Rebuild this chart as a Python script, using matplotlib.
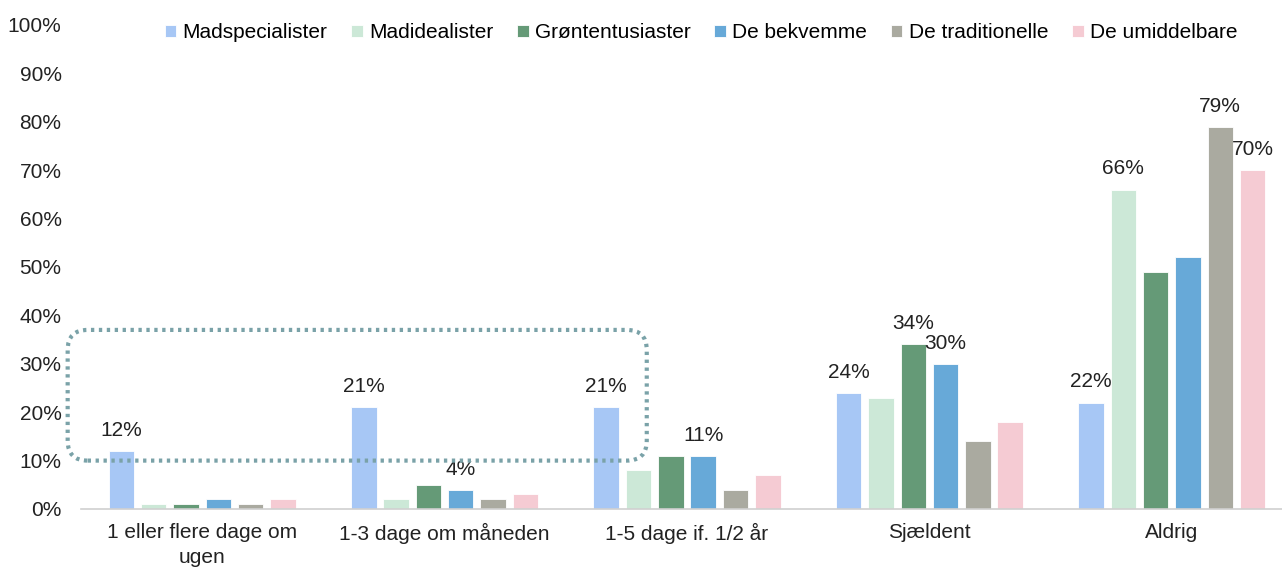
import matplotlib
matplotlib.use("Agg")
import matplotlib.pyplot as plt
import numpy as np
from matplotlib.patches import FancyBboxPatch
from matplotlib.transforms import IdentityTransform

plt.rcParams["font.family"] = ["Liberation Sans", "DejaVu Sans"]

categories = ["1 eller flere dage om\nugen", "1-3 dage om måneden", "1-5 dage if. 1/2 år",
              "Sjældent", "Aldrig"]
series = ["Madspecialister", "Madidealister", "Grøntentusiaster",
          "De bekvemme", "De traditionelle", "De umiddelbare"]
madspecialister = [12, 21, 21, 24, 22]
madidealister = [1, 2, 8, 23, 66]
groententusiaster = [1, 5, 11, 34, 49]
bekvemme = [2, 4, 11, 30, 52]
traditionelle = [1, 2, 4, 14, 79]
umiddelbare = [2, 3, 7, 18, 70]
values = [madspecialister, madidealister, groententusiaster, bekvemme, traditionelle, umiddelbare]
colors = ["#a7c7f5", "#cce8d7", "#659a77", "#67a9d8", "#aaaaa0", "#f5cbd3"]

# which bars get a data label: (series index, category index)
shown_labels = [(0, 0), (0, 1), (3, 1), (0, 2), (3, 2),
                (0, 3), (2, 3), (3, 3), (0, 4), (1, 4), (4, 4), (5, 4)]

fs = 15

fig = plt.figure(figsize=(12.82, 5.67), dpi=100)
ax = fig.add_axes([81 / 1282, 58 / 567, 1212 / 1282, 484 / 567])

x = np.arange(len(categories))
pitch = 0.1333
width = 0.105
bars = []
for i, (name, vals, col) in enumerate(zip(series, values, colors)):
    b = ax.bar(x + (i - 2.5) * pitch, vals, width, color=col, label=name,
               edgecolor="white", linewidth=0.6)
    bars.append(b)

for si, ci in shown_labels:
    rect = bars[si][ci]
    ax.annotate(f"{values[si][ci]}%",
                (rect.get_x() + rect.get_width() / 2, rect.get_height()),
                xytext=(0, 8), textcoords="offset points",
                ha="center", va="bottom", fontsize=fs, color="#222222")

ax.set_xlim(-0.5, 4.5)
ax.set_ylim(0, 100)
ax.set_yticks(np.arange(0, 101, 10))
ax.set_yticklabels([f"{v}%" for v in range(0, 101, 10)], fontsize=fs)
ax.set_xticks(x)
ax.set_xticklabels(categories, fontsize=fs, linespacing=1.4)
ax.tick_params(axis="both", length=0, colors="#222222")
ax.tick_params(axis="y", pad=14)
ax.tick_params(axis="x", pad=10)
for s in ["top", "right", "left"]:
    ax.spines[s].set_visible(False)
ax.spines["bottom"].set_color("#d0d0d0")
ax.spines["bottom"].set_linewidth(1.2)

# dotted rounded highlight box, placed in pixel space from data coordinates
fig.canvas.draw()
x0, y0 = ax.transData.transform((-0.555, 10))
x1, y1 = ax.transData.transform((1.834, 37))
box = FancyBboxPatch((x0 + 20, y0 + 20), (x1 - x0) - 40, (y1 - y0) - 40,
                     boxstyle="round,pad=20", transform=IdentityTransform(),
                     fill=False, edgecolor="#7aa2a8", linewidth=3,
                     linestyle=(0, (0.8, 1.1)))
fig.patches.append(box)

fig.legend(loc="center", bbox_to_anchor=(701 / 1282, 1 - 33 / 567), ncol=6,
           frameon=False, fontsize=fs, handlelength=0.55, handleheight=0.55,
           handletextpad=0.3, columnspacing=1.15)

fig.savefig("out.png", dpi=100)
